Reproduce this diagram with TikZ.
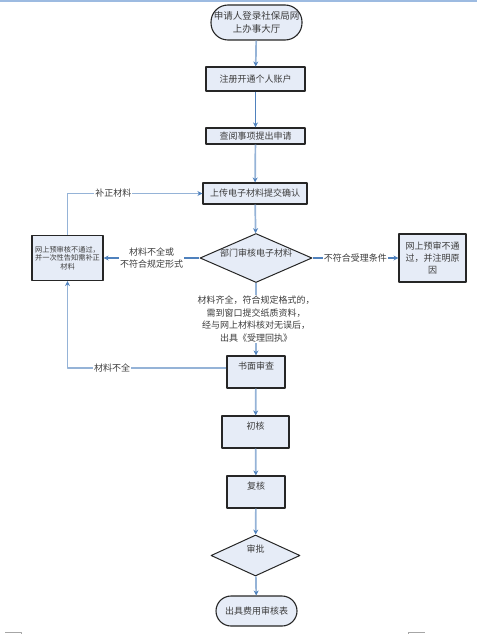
\documentclass[tikz,border=0pt]{standalone}
\usepackage{fontspec}
\setmainfont{Noto Sans CJK SC}
\usetikzlibrary{shapes.geometric,arrows.meta}
\definecolor{boxfill}{HTML}{E6ECF7}
\definecolor{linkdark}{HTML}{4F81BD}
\definecolor{linklight}{HTML}{95B3D7}
\definecolor{topband}{HTML}{9DBBE1}
\definecolor{inkgray}{HTML}{3C3C3C}
\begin{document}
\begin{tikzpicture}[x=1pt, y=-1pt, line join=round, >={Stealth[length=5pt,width=5pt,color=linkdark]},
  box/.style={draw=black!85, line width=1.1pt, fill=boxfill, inner sep=0pt, text=inkgray, font=\fontsize{9}{12}\selectfont, align=center},
  topbox/.style={box, text height=8pt, text depth=14pt},
  decide/.style={draw=black!85, line width=1pt, fill=boxfill, diamond, inner sep=0pt},
  dtext/.style={text=inkgray, inner sep=0pt, font=\fontsize{9}{12}\selectfont},
  link/.style={linklight, line width=1.7pt},
  linkd/.style={linkdark, line width=1.7pt},
  lbl/.style={fill=white, inner sep=1pt, text=inkgray, font=\fontsize{9}{12.5}\selectfont, align=center}]
\useasboundingbox (0,0) rectangle (477,634);
% page band and corner marks
\fill[topband] (0,0) rectangle (477,2.5);
\draw[gray!70, line width=1pt] (5,632) -- (21.5,632) -- (21.5,634);
\draw[gray!70, line width=1pt] (408,634) -- (408,632) -- (425,632);
% main column
\node[box, rounded corners=17pt, minimum width=91pt, minimum height=35pt, font=\fontsize{9.5}{13}\selectfont] (apply) at (256.5,22.5) {申请人登录社保局网\\上办事大厅};
\node[box, minimum width=99pt, minimum height=24pt] (account) at (255.5,79) {注册开通个人账户};
\node[box, minimum width=99pt, minimum height=16pt] (query) at (255.5,136) {查阅事项提出申请};
\node[box, minimum width=104pt, minimum height=21pt] (upload) at (255,193.5) {上传电子材料提交确认};
\node[decide, minimum width=112pt, minimum height=49pt] (check) at (256,258) {};
\node[dtext] (checktext) at ([yshift=5pt]check.center) {部门审核电子材料};
\node[topbox, minimum width=58pt, minimum height=32pt] (paper) at (256,372) {书面审查};
\node[topbox, minimum width=67pt, minimum height=32pt] (first) at (255.5,432) {初核};
\node[topbox, minimum width=58pt, minimum height=32pt] (second) at (256,492) {复核};
\node[decide, minimum width=89pt, minimum height=41pt] (approve) at (255.5,555.5) {};
\node[dtext] (approvetext) at ([yshift=6pt]approve.center) {审批};
\node[box, rounded corners=15pt, minimum width=81pt, minimum height=30pt] (issue) at (256.5,611) {出具费用审核表};
% side boxes
\node[box, minimum width=67pt, minimum height=48pt] (refuse) at (432.5,258) {网上预审不通\\过，并注明原\\因};
\node[box, minimum width=71pt, minimum height=45pt, font=\fontsize{7.2}{8.7}\selectfont] (supply) at (67.5,258) {网上预审核不通过，\\并一次性告知需补正\\材料};
% connectors
\draw[link,->] (apply) -- (account);
\draw[linkd,->] (account) -- (query);
\draw[link,->] (query) -- (upload);
\draw[link,->] (upload) -- (check);
\draw[linkd,->] (check) -- node[lbl] (nolabel) {不符合受理条件} (refuse);
\draw[linkd,->] (check) -- node[lbl] (lacklabel) {材料不全或\\不符合规定形式} (supply);
\draw[link,->] (supply) |- node[lbl, pos=0.67] (fixlabel) {补正材料} (upload);
\draw[link,->] (check) -- node[lbl] (oklabel) {材料齐全，符合规定格式的，\\需到窗口提交纸质资料，\\经与网上材料核对无误后，\\出具《受理回执》} (paper);
\draw[link,->] ([yshift=4pt]paper.west) -| node[lbl, pos=0.36] (backlabel) {材料不全} (supply);
\draw[link,->] (paper) -- (first);
\draw[link,->] (first) -- (second);
\draw[link,->] (second) -- (approve);
\draw[link,->] (approve) -- (issue);
\end{tikzpicture}
\end{document}
